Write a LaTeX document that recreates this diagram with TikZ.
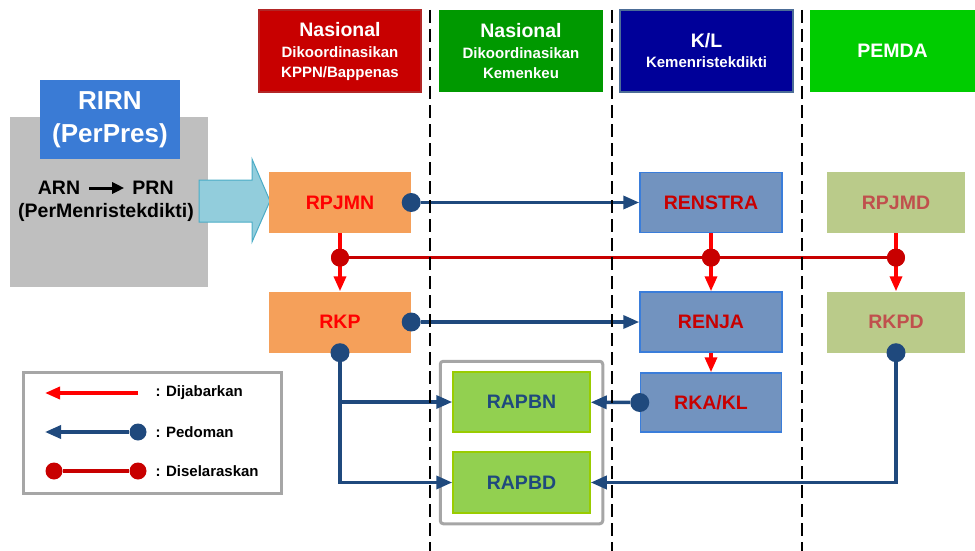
\documentclass[tikz,border=0pt]{standalone}
\usepackage{fontspec}
\setmainfont{Liberation Sans}
\usetikzlibrary{calc,positioning,arrows.meta,fit}

\definecolor{merah}{HTML}{C80000}
\definecolor{hijau}{HTML}{009900}
\definecolor{biru}{HTML}{000099}
\definecolor{pemda}{HTML}{00CC00}
\definecolor{oranye}{HTML}{F5A05A}
\definecolor{biruKL}{HTML}{7293BF}
\definecolor{garisKL}{HTML}{3A7DDA}
\definecolor{zaitun}{HTML}{BACB8A}
\definecolor{teksDaerah}{HTML}{C0504D}
\definecolor{daun}{HTML}{92D050}
\definecolor{garisDaun}{HTML}{99CC00}
\definecolor{tinta}{HTML}{1F497D}
\definecolor{abu}{HTML}{BFBFBF}
\definecolor{rirn}{HTML}{3A7BD5}
\definecolor{panah}{HTML}{92CDDC}
\definecolor{garisPanah}{HTML}{4BACC6}

\newcommand{\besar}{\fontsize{19.5}{22}\selectfont}
\newcommand{\kecil}{\fontsize{15}{20}\selectfont}

\begin{document}
\begin{tikzpicture}[x=1pt,y=-1pt,
  every node/.style={font=\bfseries},
  kotak/.style={inner sep=0pt,align=center,font=\bfseries\besar},
  judul/.style={kotak,minimum height=82pt,text=white,font=\bfseries\fontsize{19.5}{20}\selectfont},
  rencana/.style={kotak,fill=oranye,text=red,minimum width=142pt,minimum height=61pt},
  kl/.style={kotak,fill=biruKL,draw=garisKL,line width=1.5pt,text=merah,minimum width=142pt,minimum height=60pt},
  daerah/.style={kotak,fill=zaitun,text=teksDaerah,minimum width=138pt,minimum height=61pt},
  apb/.style={kotak,fill=daun,draw=garisDaun,line width=1.5pt,text=tinta,minimum width=137pt,minimum height=60pt},
  bdot/.style={circle,fill=tinta,inner sep=0pt,minimum size=19pt},
  rdot/.style={circle,fill=merah,inner sep=0pt,minimum size=18pt},
  ldot/.style={circle,fill=merah,inner sep=0pt,minimum size=17pt},
  jabar/.style={draw=red,line width=3.5pt,-{Triangle[length=15pt,width=12pt]}},
  pedoman/.style={draw=tinta,line width=3.5pt,-{Triangle[length=16pt,width=13pt]}},
  selaras/.style={draw=merah,line width=3.5pt},
  batas/.style={draw=black,line width=2.5pt,dash pattern=on 13pt off 6pt}]
  \useasboundingbox (0,0) rectangle (975,551);

  % kepala kolom
  \node[judul,fill=merah,draw=merah!70!gray,line width=1.5pt,minimum width=162pt] (nas1) at (340,51) {Nasional\\[1pt]\kecil Dikoordinasikan\\\kecil KPPN/Bappenas};
  \node[judul,fill=hijau,minimum width=164pt] (nas2) at (521,51) {Nasional\\[1pt]\kecil Dikoordinasikan\\\kecil Kemenkeu};
  \node[judul,fill=biru,draw=tinta!80!white,line width=1.5pt,minimum width=173pt] (kl) at (706.5,51) {K/L\\\kecil Kemenristekdikti};
  \node[judul,fill=pemda,minimum width=165pt] (pd) at (892.5,51) {PEMDA};

  % RIRN
  \node[fill=abu,minimum width=198pt,minimum height=170pt] (abu) at (109,202) {};
  \node[kotak,fill=rirn,text=white,font=\bfseries\fontsize{26}{33}\selectfont,minimum width=140pt,minimum height=79pt] (rirn) at (110,119.5) {RIRN\\(PerPres)};
  \node[kotak] (arn) at (59,188) {ARN};
  \node[kotak] (prn) at (153,188) {PRN};
  \node[kotak] (pm) at (106,212) {(PerMenristekdikti)};
  \draw[line width=3pt,-{Triangle[length=12pt,width=11pt]},shorten <=9pt,shorten >=8pt] (arn) -- (prn);
  \draw[fill=panah,draw=garisPanah,line width=1pt] (199,180) -- (252,180) -- (252,159) -- (270,201) -- (252,242) -- (252,222) -- (199,222) -- cycle;

  % dokumen perencanaan
  \node[rencana] (rpjmn) at (340,202.5) {RPJMN};
  \node[rencana] (rkp) at (340,322) {RKP};
  \node[kl] (renstra) at (711,202.5) {RENSTRA};
  \node[kl] (renja) at (711,322) {RENJA};
  \node[kl,minimum width=141pt,minimum height=59pt] (rkakl) at (711,402.5) {RKA/KL};
  \node[daerah] (rpjmd) at (896,202.5) {RPJMD};
  \node[daerah] (rkpd) at (896,322) {RKPD};
  \node[apb] (rapbn) at (521.5,402) {RAPBN};
  \node[apb,minimum height=61pt] (rapbd) at (521.5,482.5) {RAPBD};
  \node[draw=gray!70,line width=3pt,rounded corners=3pt,inner xsep=12pt,inner ysep=10pt,fit=(rapbn)(rapbd)] (grup) {};

  % diselaraskan
  \node[rdot] (s1) at ($(rpjmn.south)!0.42!(rkp.north)$) {};
  \node[rdot] (s2) at ($(renstra.south)!0.42!(renja.north)$) {};
  \node[rdot] (s3) at ($(rpjmd.south)!0.42!(rkpd.north)$) {};
  \draw[selaras] (s1) -- (s3);
  \draw[jabar] (rpjmn) -- (rkp);
  \draw[jabar] (renstra) -- (renja);
  \draw[jabar] (rpjmd) -- (rkpd);
  \draw[jabar] (renja) -- (rkakl);
  \node[rdot] at (s1) {};
  \node[rdot] at (s2) {};
  \node[rdot] at (s3) {};

  % pedoman
  \node[bdot] (b1) at (rpjmn.east) {};
  \node[bdot] (b2) at (rkp.east) {};
  \node[bdot] (b3) at (rkp.south) {};
  \node[bdot] (b4) at (rkakl.west) {};
  \node[bdot] (b5) at (rkpd.south) {};
  \draw[pedoman] (b1) -- (renstra);
  \draw[pedoman] (b2) -- (renja);
  \draw[pedoman] (b3) |- (rapbd);
  \draw[pedoman] (b3 |- rapbn) -- (rapbn);
  \draw[pedoman] (b4) -- (rapbn);
  \draw[pedoman] (b5) |- (rapbd);

  % garis kolom
  \draw[batas] (430,10) -- (430,551);
  \draw[batas] (612,10) -- (612,551);
  \draw[batas] (802,10) -- (802,551);

  % keterangan
  \node[draw=gray!70,line width=3pt,minimum width=258pt,minimum height=121pt] (leg) at (152,432.5) {};
  \coordinate (j1) at (138,393);
  \coordinate (j2) at (45,393);
  \draw[jabar] (j1) -- (j2);
  \node[anchor=west,font=\bfseries\kecil] (t1) at (152,393) {: Dijabarkan};
  \node[bdot,minimum size=17pt] (p1) at (138,432) {};
  \coordinate (p2) at (45,432);
  \draw[pedoman] (p1) -- (p2);
  \node[anchor=west,font=\bfseries\kecil] (t2) at (152,432) {: Pedoman};
  \node[ldot] (l1) at (54,471) {};
  \node[ldot] (l2) at (138,471) {};
  \draw[selaras] (l1) -- (l2);
  \node[anchor=west,font=\bfseries\kecil] (t3) at (152,471) {: Diselaraskan};
\end{tikzpicture}
\end{document}
